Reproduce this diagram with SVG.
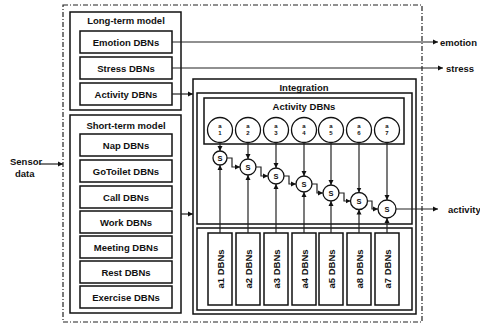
<svg xmlns="http://www.w3.org/2000/svg" width="480" height="326" viewBox="0 0 480 326">
<defs>
<marker id="ah" markerWidth="6" markerHeight="6" refX="5" refY="3" orient="auto" markerUnits="userSpaceOnUse">
<path d="M0,0.5 L5,3 L0,5.5 z" fill="#111"/>
</marker>
<style>
text{font-family:"Liberation Sans",Arial,sans-serif;font-weight:bold;fill:#111}
.t{font-size:9.5px;text-anchor:middle}
.lbl{font-size:9.5px}
.box{fill:#fff;stroke:#111;stroke-width:1.5}
.frame{fill:none;stroke:#111;stroke-width:1.5}
.dash{fill:none;stroke:#222;stroke-width:1.2;stroke-dasharray:5 2 1 2}
.c{fill:#fff;stroke:#111;stroke-width:1.3}
.sm{font-size:6px;text-anchor:middle}
.s{font-size:7.5px;text-anchor:middle}
.ar{fill:none;stroke:#222;stroke-width:1.2;marker-end:url(#ah)}
</style>
</defs>
<rect width="480" height="326" fill="#fff"/>

<g id="outer"><rect class="dash" x="63" y="5" width="359" height="317"/></g>

<g id="longterm">
<rect class="frame" x="70" y="12" width="111" height="98"/>
<text class="t" x="126" y="23.5">Long-term model</text>
</g>
<g id="emotion-dbns"><rect class="box" x="80" y="31" width="92" height="22"/><text class="t" x="126" y="45.5">Emotion DBNs</text></g>
<g id="stress-dbns"><rect class="box" x="80" y="57" width="92" height="22"/><text class="t" x="126" y="71.5">Stress DBNs</text></g>
<g id="activity-dbns-lt"><rect class="box" x="80" y="83" width="92" height="22"/><text class="t" x="126" y="97.5">Activity DBNs</text></g>

<g id="shortterm">
<rect class="frame" x="70" y="115" width="111" height="198"/>
<text class="t" x="126" y="128.5">Short-term model</text>
</g>
<g id="nap"><rect class="box" x="80" y="134" width="92" height="22"/><text class="t" x="126" y="148.5">Nap DBNs</text></g>
<g id="gotoilet"><rect class="box" x="80" y="160" width="92" height="22"/><text class="t" x="126" y="174.5">GoToilet DBNs</text></g>
<g id="call"><rect class="box" x="80" y="186" width="92" height="22"/><text class="t" x="126" y="200.5">Call DBNs</text></g>
<g id="work"><rect class="box" x="80" y="211" width="92" height="22"/><text class="t" x="126" y="225.5">Work DBNs</text></g>
<g id="meeting"><rect class="box" x="80" y="236" width="92" height="22"/><text class="t" x="126" y="250.5">Meeting DBNs</text></g>
<g id="rest"><rect class="box" x="80" y="261" width="92" height="22"/><text class="t" x="126" y="275.5">Rest DBNs</text></g>
<g id="exercise"><rect class="box" x="80" y="286" width="92" height="22"/><text class="t" x="126" y="300.5">Exercise DBNs</text></g>

<g id="integration">
<rect class="frame" x="193" y="79" width="223" height="235"/>
<text class="t" x="304" y="90.5">Integration</text>
<rect class="frame" x="197" y="93" width="215" height="131"/>
<rect class="frame" x="197" y="228" width="215" height="82"/>
</g>

<g id="activity-dbns">
<rect class="frame" x="204" y="98" width="200" height="46"/>
<text class="t" x="304" y="109.5">Activity DBNs</text>
</g>

<g id="a1"><circle class="c" cx="220" cy="130" r="12.5"/><text class="sm" x="220" y="128">a</text><text class="sm" x="220" y="135">1</text></g>
<g id="a2"><circle class="c" cx="248" cy="130" r="12.5"/><text class="sm" x="248" y="128">a</text><text class="sm" x="248" y="135">2</text></g>
<g id="a3"><circle class="c" cx="276" cy="130" r="12.5"/><text class="sm" x="276" y="128">a</text><text class="sm" x="276" y="135">3</text></g>
<g id="a4"><circle class="c" cx="304" cy="130" r="12.5"/><text class="sm" x="304" y="128">a</text><text class="sm" x="304" y="135">4</text></g>
<g id="a5"><circle class="c" cx="331" cy="130" r="12.5"/><text class="sm" x="331" y="128">a</text><text class="sm" x="331" y="135">5</text></g>
<g id="a6"><circle class="c" cx="359" cy="130" r="12.5"/><text class="sm" x="359" y="128">a</text><text class="sm" x="359" y="135">6</text></g>
<g id="a7"><circle class="c" cx="387" cy="130" r="12.5"/><text class="sm" x="387" y="128">a</text><text class="sm" x="387" y="135">7</text></g>

<g id="s1"><circle class="c" cx="220" cy="158" r="7"/><text class="s" x="220" y="160.7">S</text></g>
<g id="s2"><circle class="c" cx="248" cy="167" r="8"/><text class="s" x="248" y="169.7">S</text></g>
<g id="s3"><circle class="c" cx="276" cy="176" r="8"/><text class="s" x="276" y="178.7">S</text></g>
<g id="s4"><circle class="c" cx="304" cy="184" r="8"/><text class="s" x="304" y="186.7">S</text></g>
<g id="s5"><circle class="c" cx="331" cy="193" r="8"/><text class="s" x="331" y="195.7">S</text></g>
<g id="s6"><circle class="c" cx="359" cy="201" r="8.5"/><text class="s" x="359" y="203.7">S</text></g>
<g id="s7"><circle class="c" cx="387" cy="209" r="9"/><text class="s" x="387" y="211.7">S</text></g>

<g id="b1"><rect class="box" x="208" y="233" width="24" height="72"/><text class="t" transform="translate(223.5,269) rotate(-90)">a1 DBNs</text></g>
<g id="b2"><rect class="box" x="236" y="233" width="24" height="72"/><text class="t" transform="translate(251.5,269) rotate(-90)">a2 DBNs</text></g>
<g id="b3"><rect class="box" x="264" y="233" width="24" height="72"/><text class="t" transform="translate(279.5,269) rotate(-90)">a3 DBNs</text></g>
<g id="b4"><rect class="box" x="292" y="233" width="24" height="72"/><text class="t" transform="translate(307.5,269) rotate(-90)">a4 DBNs</text></g>
<g id="b5"><rect class="box" x="319" y="233" width="24" height="72"/><text class="t" transform="translate(334.5,269) rotate(-90)">a5 DBNs</text></g>
<g id="b6"><rect class="box" x="347" y="233" width="24" height="72"/><text class="t" transform="translate(362.5,269) rotate(-90)">a8 DBNs</text></g>
<g id="b7"><rect class="box" x="375" y="233" width="24" height="72"/><text class="t" transform="translate(390.5,269) rotate(-90)">a7 DBNs</text></g>

<g id="labels">
<text class="lbl" x="440" y="45.5">emotion</text>
<text class="lbl" x="446" y="71.5">stress</text>
<text class="lbl" x="448" y="212.5">activity</text>
<text class="lbl" x="10" y="165">Sensor</text>
<text class="lbl" x="15" y="177">data</text>
</g>

<g id="connectors">
<path class="ar" d="M172,42 H438"/>
<path class="ar" d="M172,68 H443"/>
<path class="ar" d="M172,94 H193"/>
<path class="ar" d="M181,214 H193"/>
<path class="ar" d="M40,164 H63"/>
<path class="ar" d="M396,209 H438"/>

<path class="ar" d="M220,142.5 V151"/>
<path class="ar" d="M248,142.5 V159"/>
<path class="ar" d="M276,142.5 V168"/>
<path class="ar" d="M304,142.5 V176"/>
<path class="ar" d="M331,142.5 V185"/>
<path class="ar" d="M359,142.5 V192.5"/>
<path class="ar" d="M387,142.5 V200"/>

<path class="ar" d="M220,233 V165"/>
<path class="ar" d="M248,233 V175"/>
<path class="ar" d="M276,233 V184"/>
<path class="ar" d="M304,233 V192"/>
<path class="ar" d="M331,233 V201"/>
<path class="ar" d="M359,233 V209.5"/>
<path class="ar" d="M387,233 V218"/>

<path class="ar" d="M227,158 H232 V167 H240"/>
<path class="ar" d="M256,167 H261 V176 H268"/>
<path class="ar" d="M284,176 H289 V184 H296"/>
<path class="ar" d="M312,184 H317 V193 H323"/>
<path class="ar" d="M339,193 H344 V201 H350.5"/>
<path class="ar" d="M367.5,201 H372 V209 H378"/>
</g>
</svg>
